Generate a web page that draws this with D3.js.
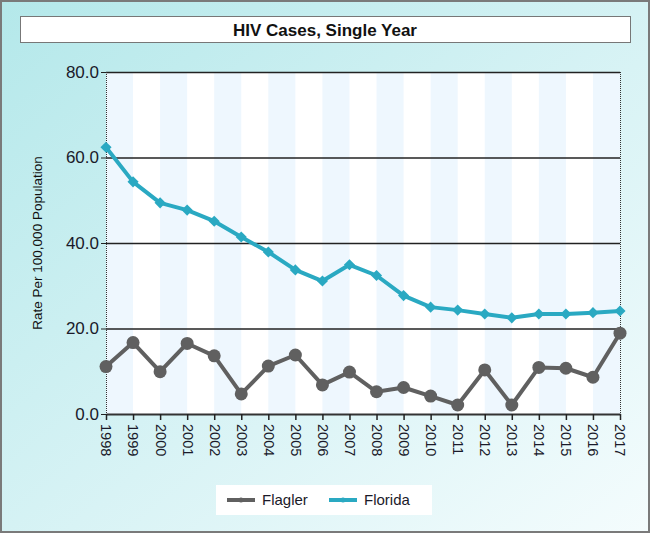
<!DOCTYPE html>
<html>
<head>
<meta charset="utf-8">
<script src="https://cdn.jsdelivr.net/npm/d3@7"></script>
<style>
  body { margin: 0; padding: 0; }
  svg { display: block; font-family: "Liberation Sans", Arial, sans-serif; }
</style>
</head>
<body>
<svg id="chart" width="650" height="533"></svg>
<script>
const years = ['1998', '1999', '2000', '2001', '2002', '2003', '2004', '2005', '2006', '2007',
  '2008', '2009', '2010', '2011', '2012', '2013', '2014', '2015', '2016', '2017'];
const flagler = [11.1, 16.7, 9.9, 16.5, 13.6, 4.7, 11.2, 13.8, 6.8, 9.8,
  5.2, 6.2, 4.2, 2.1, 10.3, 2.1, 10.9, 10.7, 8.6, 18.9];
const florida = [62.4, 54.3, 49.4, 47.7, 45.1, 41.4, 37.9, 33.7, 31.1, 34.9,
  32.4, 27.7, 25.0, 24.3, 23.4, 22.5, 23.4, 23.4, 23.7, 24.1];
const yTicks = [0, 20, 40, 60, 80];
const seriesNames = ['Flagler', 'Florida'];
const seriesColors = ['#606060', '#2aa9c2'];

const svg = d3.select('#chart');
const width = +svg.attr('width');
const height = +svg.attr('height');
const margin = {top: 72, right: 30, bottom: 119, left: 106};
const innerWidth = width - margin.left - margin.right;
const innerHeight = height - margin.top - margin.bottom;

// background gradient
const defs = svg.append('defs');
const grad = defs.append('linearGradient').attr('id', 'bg')
  .attr('x1', '0%').attr('y1', '0%').attr('x2', '100%').attr('y2', '100%');
grad.append('stop').attr('offset', '0%').attr('stop-color', '#b4e8ea');
grad.append('stop').attr('offset', '55%').attr('stop-color', '#d8f3f5');
grad.append('stop').attr('offset', '100%').attr('stop-color', '#f4fcfd');

svg.append('rect')
  .attr('x', 1).attr('y', 1).attr('width', width - 2).attr('height', height - 2)
  .attr('fill', 'url(#bg)').attr('stroke', '#7a7a7a').attr('stroke-width', 2);

// title box
svg.append('rect')
  .attr('x', 20.5).attr('y', 16.5).attr('width', 610).attr('height', 26)
  .attr('fill', '#fff').attr('stroke', '#777').attr('stroke-width', 1);
svg.append('text')
  .attr('x', 325).attr('y', 35.5)
  .attr('text-anchor', 'middle')
  .attr('font-size', '17px').attr('font-weight', 'bold')
  .attr('fill', '#111')
  .text('HIV Cases, Single Year');

const g = svg.append('g').attr('transform', `translate(${margin.left}, ${margin.top})`);

const xScale = d3.scalePoint().domain(years).range([0, innerWidth]);
const yScale = d3.scaleLinear().domain([0, 80]).range([innerHeight, 0]);

// plot background + stripes
g.append('rect').attr('width', innerWidth).attr('height', innerHeight).attr('fill', '#fff');
g.selectAll('.stripe').data(years.slice(0, -1).filter((d, i) => i % 2 === 0)).enter().append('rect')
  .attr('class', 'stripe')
  .attr('x', d => xScale(d))
  .attr('y', 0)
  .attr('width', xScale.step())
  .attr('height', innerHeight)
  .attr('fill', '#eef7fe');

// grid lines
g.selectAll('.grid').data(yTicks.filter(d => d > 0)).enter().append('line')
  .attr('class', 'grid')
  .attr('x1', 0).attr('x2', innerWidth)
  .attr('y1', d => yScale(d) + 0.5).attr('y2', d => yScale(d) + 0.5)
  .attr('stroke', '#222').attr('stroke-width', 1.3);

// dotted vertical borders
[0, innerWidth].forEach(x => {
  g.append('line')
    .attr('x1', x + 0.5).attr('x2', x + 0.5).attr('y1', 0).attr('y2', innerHeight)
    .attr('stroke', '#333').attr('stroke-dasharray', '1,1');
});

// y axis
const yAxis = d3.axisLeft(yScale).tickValues(yTicks).tickFormat(d3.format('.1f')).tickSize(5).tickPadding(2);
const yAxisGroup = g.append('g').call(yAxis);
yAxisGroup.select('.domain').remove();
yAxisGroup.selectAll('.tick line').attr('stroke', '#222');
yAxisGroup.selectAll('.tick text').attr('font-size', '17px').attr('fill', '#1a1a2a');

// x axis
const xAxis = d3.axisBottom(xScale).tickSize(6).tickSizeOuter(0);
const xAxisGroup = g.append('g').attr('transform', `translate(0, ${innerHeight})`).call(xAxis);
xAxisGroup.select('.domain').attr('stroke', '#333').attr('stroke-width', 2);
xAxisGroup.selectAll('.tick line').attr('stroke', '#222').attr('stroke-width', 1.5);
xAxisGroup.selectAll('.tick text')
  .attr('font-size', '14.5px').attr('fill', '#1a1a2a')
  .attr('transform', 'rotate(90)')
  .attr('text-anchor', 'start')
  .attr('x', 10).attr('y', 0).attr('dy', '0.35em');

// y axis title
svg.append('text')
  .attr('transform', 'translate(42, 243) rotate(-90)')
  .attr('text-anchor', 'middle')
  .attr('font-size', '13.5px').attr('fill', '#111')
  .text('Rate Per 100,000 Population');

// lines
const line = d3.line().x((d, i) => xScale(years[i])).y(d => yScale(d));

g.append('path').datum(flagler)
  .attr('fill', 'none').attr('stroke', seriesColors[0]).attr('stroke-width', 4)
  .attr('stroke-linejoin', 'round').attr('d', line);
g.selectAll('.flagler-pt').data(flagler).enter().append('circle')
  .attr('class', 'flagler-pt')
  .attr('cx', (d, i) => xScale(years[i])).attr('cy', d => yScale(d))
  .attr('r', 6.5).attr('fill', seriesColors[0]);

g.append('path').datum(florida)
  .attr('fill', 'none').attr('stroke', seriesColors[1]).attr('stroke-width', 4)
  .attr('stroke-linejoin', 'round').attr('d', line);
const diamond = d3.symbol().type(d3.symbolSquare).size(62);
g.selectAll('.florida-pt').data(florida).enter().append('path')
  .attr('class', 'florida-pt')
  .attr('d', diamond)
  .attr('transform', (d, i) => `translate(${xScale(years[i])}, ${yScale(d)}) rotate(45)`)
  .attr('fill', seriesColors[1]);

// legend
svg.append('rect')
  .attr('x', 216).attr('y', 485).attr('width', 216).attr('height', 30)
  .attr('fill', '#fff');
const legendX = [227, 329];
seriesNames.forEach((name, i) => {
  const lg = svg.append('g').attr('transform', `translate(${legendX[i]}, 500)`);
  lg.append('line').attr('x1', 0).attr('x2', 28).attr('y1', 0).attr('y2', 0)
    .attr('stroke', seriesColors[i]).attr('stroke-width', 4);
  lg.append('circle').attr('cx', 14).attr('cy', 0).attr('r', 2.5).attr('fill', seriesColors[i]);
  lg.append('text').attr('x', 35).attr('y', 0).attr('dy', '0.35em')
    .attr('font-size', '15px').attr('fill', '#1a1a2a').text(name);
});
</script>
</body>
</html>
